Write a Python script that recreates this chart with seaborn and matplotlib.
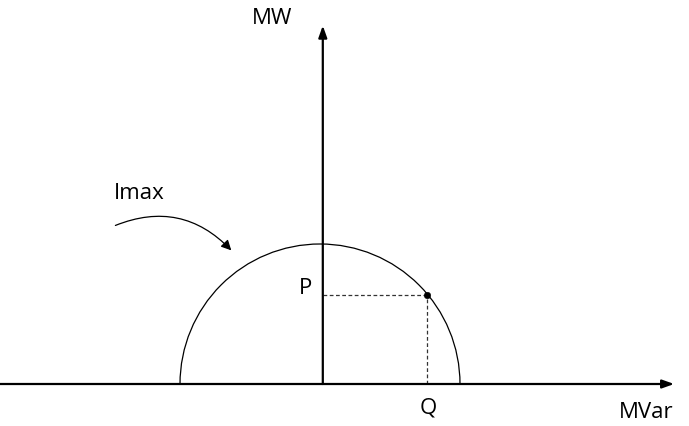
import numpy as np
import matplotlib
matplotlib.use("Agg")
import matplotlib.pyplot as plt
from matplotlib.patches import Arc, FancyArrowPatch
import seaborn as sns

# ── dados do diagrama (unidades normalizadas, raio = Imax = 1) ──────────────
IMAX_RADIUS = 1.0
CENTER = (0.0, 0.0)
P_VALUE = 0.635          # MW do ponto de operacao
Q_VALUE = 0.765          # MVar do ponto de operacao
X_AXIS_RANGE = [-2.29, 2.53]
Y_AXIS_RANGE = [0.0, 2.56]
LABELS = ["MW", "MVar", "P", "Q", "Imax"]
LABEL_POS = {
    "MW": (-0.345, 2.62),
    "MVar": (2.33, -0.20),
    "P": (-0.105, 0.69),
    "Q": (0.77, -0.165),
    "Imax": (-1.29, 1.37),
}
IMAX_ARROW = [(-1.48, 1.125), (-0.62, 0.94)]

sns.set_style("white")
plt.rcParams["font.family"] = ["Open Sans", "DejaVu Sans"]

fig = plt.figure(figsize=(6.89, 4.27), dpi=100)
ax = fig.add_axes([0, 0, 1, 1])
ax.set_xlim(-2.286, 2.636)
ax.set_ylim(-0.30, 2.75)
ax.axis("off")

# eixos com setas
ax.annotate("", xy=(X_AXIS_RANGE[1], 0), xytext=(X_AXIS_RANGE[0], 0),
            arrowprops=dict(arrowstyle="-|>,head_length=0.7,head_width=0.25",
                            color="black", lw=1.6, shrinkA=0, shrinkB=0))
ax.annotate("", xy=(0.02, Y_AXIS_RANGE[1]), xytext=(0.02, Y_AXIS_RANGE[0]),
            arrowprops=dict(arrowstyle="-|>,head_length=0.7,head_width=0.25",
                            color="black", lw=1.6, shrinkA=0, shrinkB=0))

# semicirculo Imax
ax.add_patch(Arc(CENTER, 2 * IMAX_RADIUS, 2 * IMAX_RADIUS, theta1=0, theta2=180,
                 color="black", lw=0.9))

# ponto de operacao e linhas tracejadas
ax.plot([0.02, Q_VALUE], [P_VALUE, P_VALUE], ls=(0, (3, 2)), color="#333333", lw=0.9)
ax.plot([Q_VALUE, Q_VALUE], [0, P_VALUE], ls=(0, (3, 2)), color="#333333", lw=0.9)
sns.scatterplot(x=[Q_VALUE], y=[P_VALUE], ax=ax, color="black", s=22, zorder=5,
                edgecolor="black")

# seta curva Imax
ax.add_patch(FancyArrowPatch(IMAX_ARROW[0], IMAX_ARROW[1],
                             connectionstyle="arc3,rad=-0.35",
                             arrowstyle="-|>,head_length=6,head_width=3",
                             color="black", lw=0.9))

for lab in LABELS:
    x, y = LABEL_POS[lab]
    ax.text(x, y, lab, fontsize=16, ha="center", va="center", color="black")

fig.savefig("out.png", dpi=100)
